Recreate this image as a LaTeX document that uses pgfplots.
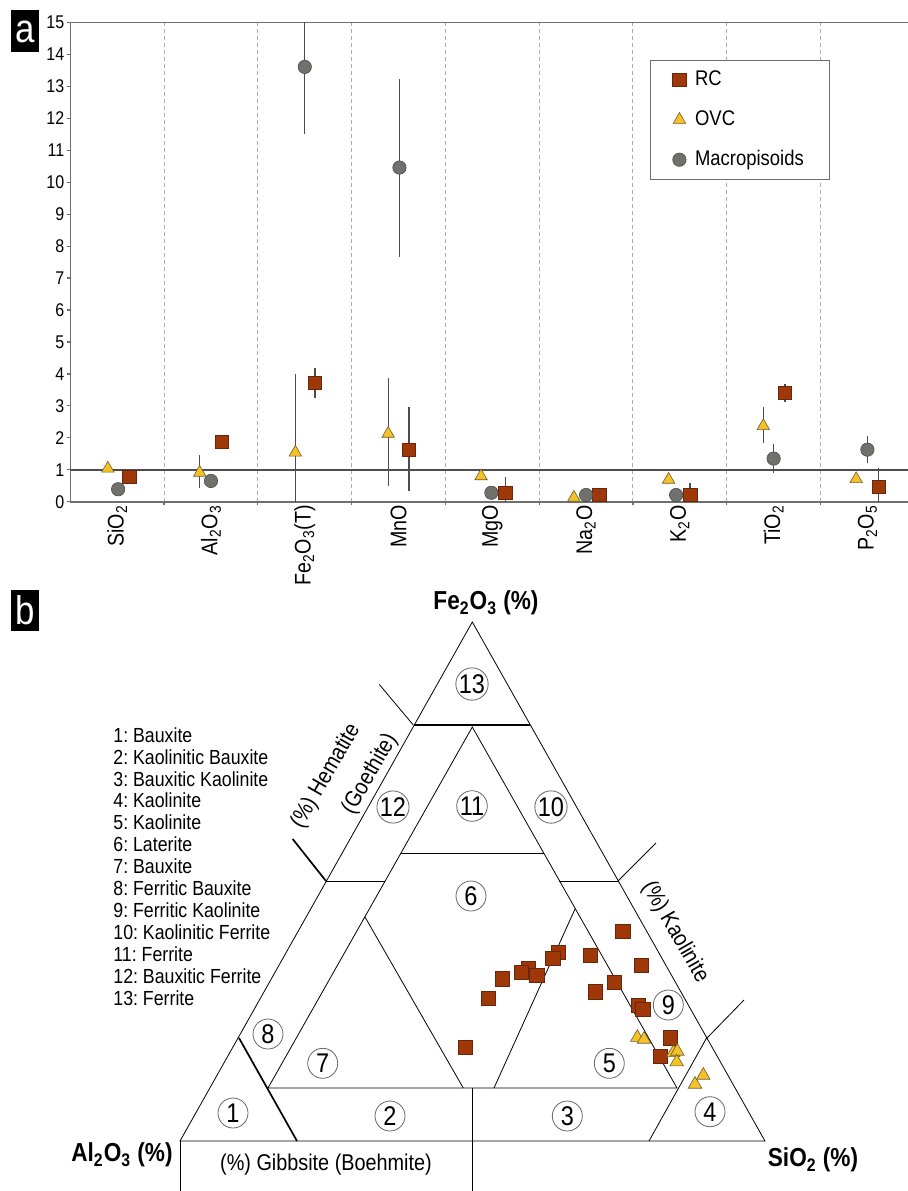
\documentclass[border=0pt]{standalone}
\usepackage{pgfplots}
\pgfplotsset{compat=1.18}
\usepackage{fontspec}
\setmainfont{Liberation Sans}[FakeStretch=0.87]
\frenchspacing
\definecolor{rcfill}{RGB}{158,56,8}
\definecolor{rcdraw}{RGB}{105,38,10}
\definecolor{ovcfill}{RGB}{246,192,40}
\definecolor{ovcdraw}{RGB}{110,95,45}
\definecolor{mpfill}{RGB}{112,112,108}
\definecolor{mpdraw}{RGB}{75,75,75}
\definecolor{axgray}{RGB}{110,110,110}
\begin{document}
\begin{tikzpicture}
\useasboundingbox (0,0) rectangle (454pt,-595.5pt);
% panel labels
\fill[black] (5.5pt,-5pt) rectangle (19.5pt,-26pt);
\node[text=white, font=\fontsize{20}{22}\selectfont, inner sep=0pt] at (12.5pt,-16pt) {a};
\fill[black] (5.5pt,-295pt) rectangle (19.5pt,-315.5pt);
\node[text=white, font=\fontsize{20}{22}\selectfont, inner sep=0pt] at (12.5pt,-305pt) {b};
% ---------------- panel a ----------------
\begin{axis}[
  at={(35.15pt,-250.85pt)}, anchor=south west,
  width=422pt, height=239.6pt, scale only axis,
  xmin=-0.5, xmax=8.5, ymin=0, ymax=15,
  axis line style={axgray, line width=0.8pt},
  xtick={0.5,1.5,...,7.5}, xticklabels={},
  xmajorgrids,
  major grid style={gray!65, dash pattern=on 2pt off 1.5pt, line width=0.5pt},
  extra x ticks={0,1,2,3,4,5,6,7,8},
  extra x tick labels={SiO\textsubscript{2}, Al\textsubscript{2}O\textsubscript{3}, Fe\textsubscript{2}O\textsubscript{3}(T), MnO, MgO, Na\textsubscript{2}O, K\textsubscript{2}O, TiO\textsubscript{2}, P\textsubscript{2}O\textsubscript{5}},
  extra x tick style={major tick length=0pt, grid=none,
     tick label style={rotate=90, anchor=east, font=\fontsize{11.3}{12}\selectfont, inner sep=1.5pt}},
  ytick={0,1,...,15},
  yticklabel style={font=\fontsize{9.2}{10}\selectfont, inner sep=1pt},
  /pgf/number format/assume math mode=true,
  tick align=outside, tick pos=left,
  major tick length=1.8pt,
  tick style={axgray, line width=0.6pt},
  legend style={at={(0.687,0.9226)}, anchor=north west, draw=axgray, line width=0.6pt,
     font=\fontsize{10.6}{12}\selectfont, inner xsep=11pt, inner ysep=2.5pt, row sep=5.5pt,
     column sep=2.5pt,
     nodes={inner sep=2pt, text height=8pt, text depth=2.5pt}},
  legend cell align=left,
]
\addplot[axgray!70!black, line width=0.8pt, forget plot] coordinates {(-0.5,1) (8.5,1)};
\addplot[only marks, mark=square*, mark size=3.35pt,
  mark options={fill=rcfill, draw=rcdraw, line width=0.3pt},
  error bars/.cd, y dir=both, y explicit, error mark=none,
  error bar style={line width=0.7pt, black!70}]
coordinates {
 (0.13,0.78) +- (0,0)
 (1.115,1.87) +- (0,0)
 (2.11,3.73) += (0,0.46) -= (0,0.47)
 (3.11,1.63) += (0,1.33) -= (0,1.28)
 (4.14,0.28) += (0,0.49) -= (0,0.30)
 (5.14,0.21) +- (0,0)
 (6.11,0.21) += (0,0.39) -= (0,0.30)
 (7.12,3.41) += (0,0.28) -= (0,0.28)
 (8.12,0.47) += (0,0.58) -= (0,0.55)
};
\addlegendentry{RC}
\addplot[only marks, mark=triangle*, mark size=3.6pt,
  mark options={fill=ovcfill, draw=ovcdraw, line width=0.3pt},
  error bars/.cd, y dir=both, y explicit, error mark=none,
  error bar style={line width=0.7pt, black!70}]
coordinates {
 (-0.10,1.04) +- (0,0)
 (0.88,0.91) += (0,0.56) -= (0,0.49)
 (1.90,1.54) += (0,2.46) -= (0,1.54)
 (2.89,2.13) += (0,1.75) -= (0,1.64)
 (3.88,0.80) +- (0,0)
 (4.87,0.13) +- (0,0)
 (5.88,0.69) +- (0,0)
 (6.89,2.37) += (0,0.61) -= (0,0.53)
 (7.88,0.71) +- (0,0)
};
\addlegendentry{OVC}
\addplot[only marks, mark=*, mark size=3.35pt,
  mark options={fill=mpfill, draw=mpdraw, line width=0.3pt},
  error bars/.cd, y dir=both, y explicit, error mark=none,
  error bar style={line width=0.7pt, black!70}]
coordinates {
 (0.01,0.39) +- (0,0)
 (1.00,0.65) +- (0,0)
 (2.00,13.61) += (0,2.0) -= (0,2.09)
 (3.01,10.46) += (0,2.76) -= (0,2.79)
 (3.99,0.28) +- (0,0)
 (5.00,0.21) +- (0,0)
 (5.96,0.21) +- (0,0)
 (7.00,1.35) += (0,0.47) -= (0,0.46)
 (8.00,1.63) += (0,0.44) -= (0,0.42)
};
\addlegendentry{Macropisoids}
\end{axis}
% ---------------- panel b ----------------
\begin{axis}[
  at={(0pt,-290pt)}, anchor=north west,
  width=454pt, height=305.5pt, scale only axis,
  xmin=0, xmax=908, ymin=580, ymax=1191, y dir=reverse,
  hide axis, clip=false,
  cycle list={{black, solid, mark=none, line width=0.85pt, line join=miter}},
]
\addplot coordinates {(180,1141) (472.3,622) (765,1141) (180,1141) (472.3,622)};
\addplot coordinates {(180,1141) (180,1191)};
\addplot coordinates {(472.7,1088) (472.7,1191)};
\addplot coordinates {(414,725) (530,725)};
\addplot coordinates {(268,1088) (472.3,727) (677,1088) (268,1088) (472.3,727)};
\addplot coordinates {(401,853) (543.5,853)};
\addplot coordinates {(326,881) (385,881)};
\addplot coordinates {(559,881) (618,881)};
\addplot coordinates {(239,1038) (297,1141)};
\addplot coordinates {(706,1039) (649,1141)};
\addplot coordinates {(365,917) (463.3,1088)};
\addplot coordinates {(575,909) (494,1088)};
\addplot coordinates {(379.3,684.4) (413.3,725)};
\addplot coordinates {(292.7,839) (326,881)};
\addplot coordinates {(618,881) (656,843)};
\addplot coordinates {(706,1039) (744,1000)};
% data
\addplot[only marks, mark=square*, mark size=3.6pt,
  mark options={fill=rcfill, draw=rcdraw, line width=0.3pt}]
coordinates {
 (622.7,931) (641,965.3) (590.3,955) (558.3,952.3) (552.7,958.3) (528.3,968.3)
 (521,972.3) (536.7,975.3) (502,978.7) (488.3,998.3) (465,1047) (595.3,991.7)
 (614,982) (638.3,1005) (642.7,1009) (670,1037.7) (660,1056)
};
\addplot[only marks, mark=triangle*, mark size=3.9pt,
  mark options={fill=ovcfill, draw=ovcdraw, line width=0.3pt}]
coordinates {
 (637.3,1037.5) (644,1039.3) (673.3,1052.7) (677.3,1051.3) (676.7,1062)
 (703.3,1075.3) (695,1084.3)
};
% region numbers
\foreach \lab/\px/\py in {13/472/684, 11/472/806, 10/551/807, 12/393/807, 6/471/896,
   9/668.3/1005, 5/609.3/1063.3, 3/567.3/1116, 4/710/1111.7, 2/390/1116,
   1/233/1113, 7/322.7/1063.3, 8/268/1034}{
  \edef\temp{\noexpand\node[draw=gray!80!black, line width=0.4pt, circle, minimum size=15pt, inner sep=0pt,
     font=\noexpand\fontsize{13.5}{14}\noexpand\selectfont] at (axis cs:\px,\py) {\lab};}
  \temp
}
% labels
\node[font=\fontsize{13}{15}\selectfont\bfseries] at (axis cs:486,603) {Fe\textsubscript{2}O\textsubscript{3} (\%)};
\node[font=\fontsize{13}{15}\selectfont\bfseries] at (axis cs:122,1155) {Al\textsubscript{2}O\textsubscript{3} (\%)};
\node[font=\fontsize{13}{15}\selectfont\bfseries] at (axis cs:813,1160) {SiO\textsubscript{2} (\%)};
\node[font=\fontsize{11.4}{13}\selectfont] at (axis cs:326,1165) {(\%) Gibbsite (Boehmite)};
\node[font=\fontsize{11.4}{13}\selectfont, rotate=60] at (axis cs:326,776) {(\%) Hematite};
\node[font=\fontsize{11.4}{13}\selectfont, rotate=60] at (axis cs:370,774) {(Goethite)};
\node[font=\fontsize{11.4}{13}\selectfont, rotate=-60] at (axis cs:675,932) {(\%) Kaolinite};
\node[font=\fontsize{10.2}{10.95}\selectfont, align=left, anchor=north west, inner sep=0pt]
  at (axis cs:113,727) {1: Bauxite\\2: Kaolinitic Bauxite\\3: Bauxitic Kaolinite\\4: Kaolinite\\5: Kaolinite\\6: Laterite\\7: Bauxite\\8: Ferritic Bauxite\\9: Ferritic Kaolinite\\10: Kaolinitic Ferrite\\11: Ferrite\\12: Bauxitic Ferrite\\13: Ferrite};
\end{axis}
\end{tikzpicture}
\end{document}
